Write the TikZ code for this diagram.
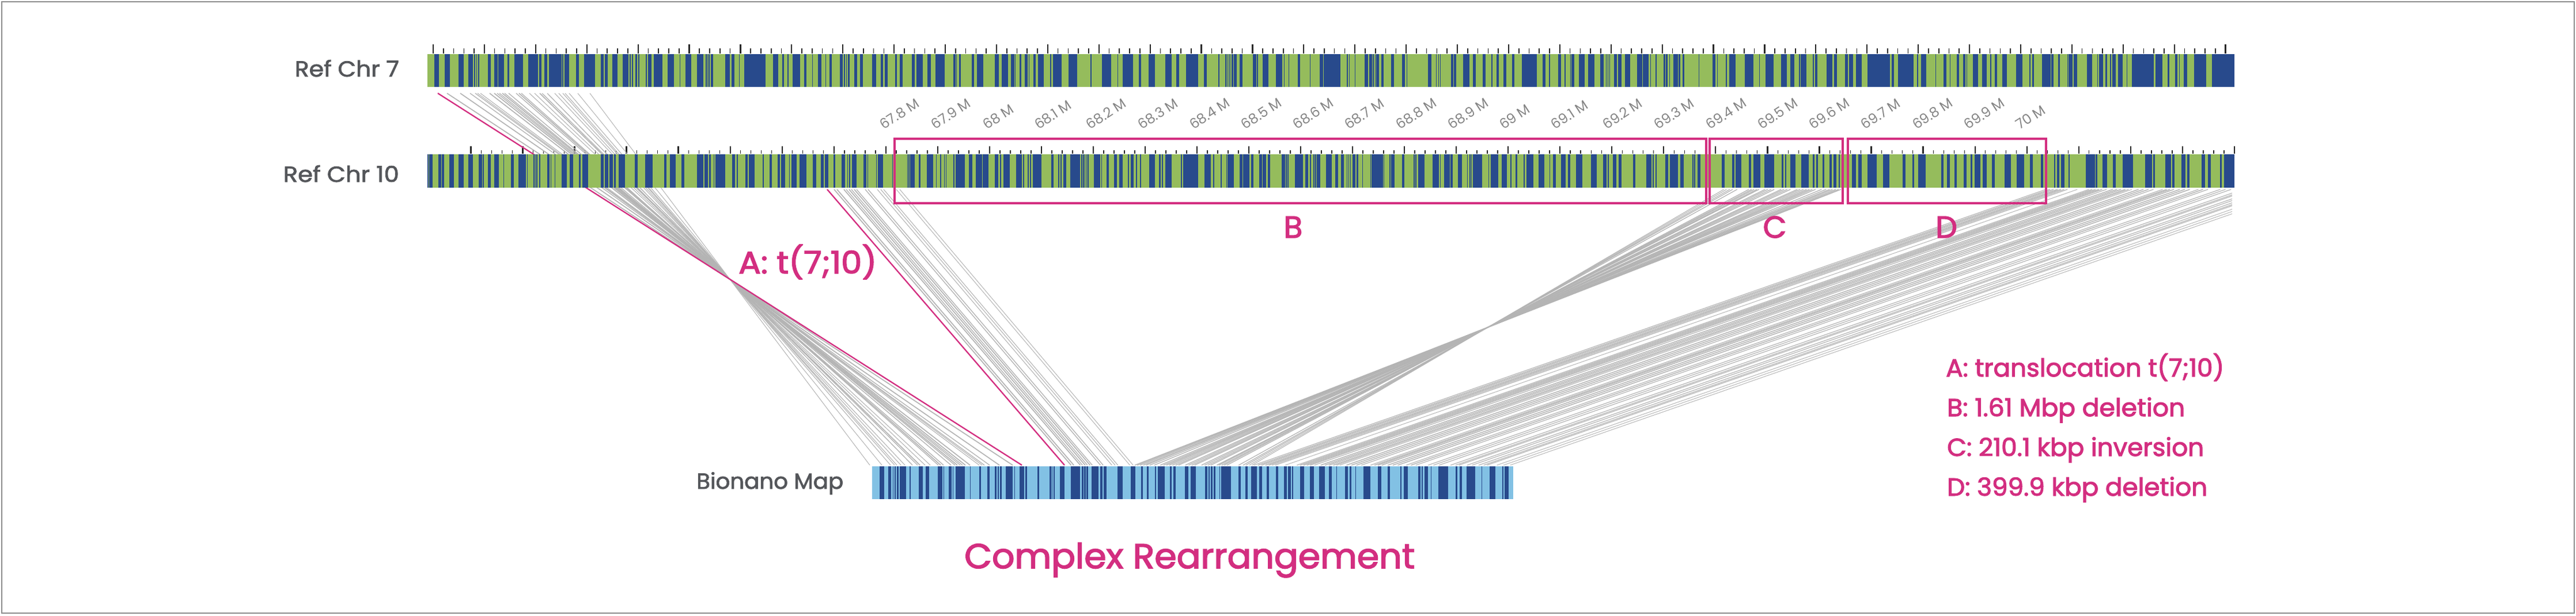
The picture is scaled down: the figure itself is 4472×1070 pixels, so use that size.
\documentclass[tikz,border=0pt]{standalone}
\usepackage{fontspec}
\usepackage{graphicx}
\setmainfont{Poppins}
\newfontfamily\medf[FakeBold=2.6]{Poppins}
\newfontfamily\grayf[FakeBold=2]{Poppins}
\newfontfamily\lightf{Poppins}
\definecolor{barblue}{HTML}{284A8C}
\definecolor{bargreen}{HTML}{95BC5C}
\definecolor{barsky}{HTML}{82C1E4}
\definecolor{mag}{HTML}{D32E80}
\definecolor{txtgray}{HTML}{54565A}
\definecolor{labgray}{HTML}{858585}
\definecolor{linkgray}{HTML}{B4B4B4}
\definecolor{framegray}{HTML}{8C8C8C}
\newcommand\stripes[6]{\foreach \a/\b in {#6}{\fill[#5] ({#1+\a/#2},#3) rectangle ({#1+\b/#2},#4);}}
\newcommand\fitw[2]{\resizebox{#1pt}{\height}{#2}}
\tikzset{
  tickmajor/.style={draw=black!85,line width=2.2pt},
  tickminor/.style={draw=black!85,line width=1.6pt},
  link/.style={draw=linkgray},
  pinklink/.style={draw=mag,line width=2.3pt},
  markbox/.style={draw=mag,line width=4pt},
  grayname/.style={font=\grayf\fontsize{38}{40}\selectfont,text=txtgray,inner sep=0pt},
  magname/.style={font=\medf\fontsize{43}{45}\selectfont,text=mag,inner sep=0pt,anchor=base west},
  boxname/.style={font=\medf\fontsize{53}{55}\selectfont,text=mag,inner sep=0pt,anchor=base},
  poslabel/.style={font=\lightf\fontsize{24}{26}\selectfont,text=labgray,inner sep=0pt,anchor=base west,rotate=33},
}
\begin{document}
\begin{tikzpicture}[x=1pt,y=-1pt]
\useasboundingbox (0,0) rectangle (4472,1070);
\draw[framegray,line width=2pt] (3,3) rectangle (4469,1065);

% ticks on Chr 7
\foreach \i in {0,...,175}{
  \pgfmathsetmacro\tx{752+17.78*\i}
  \pgfmathtruncatemacro\m{mod(\i,5)}
  \ifnum\m=0 \draw[tickmajor] (\tx,77) -- (\tx,93);
  \else \draw[tickminor] (\tx,84) -- (\tx,93); \fi
}
% ticks on Chr 10
\foreach \i in {0,...,170}{
  \pgfmathsetmacro\tx{817.4+18.008*\i}
  \pgfmathtruncatemacro\m{mod(\i,5)}
  \ifnum\m=0 \draw[tickmajor] (\tx,254) -- (\tx,267);
  \else \draw[tickminor] (\tx,261) -- (\tx,267); \fi
}

% translocation fan: chromosome 7 to map, through one crossing
\foreach \a/\w in {776/2,799/2,816/1.6,825/1.6,829/1.3,834/1.3,850/2,858/2,863/1.6,867/1.6,872/2,876/1.6,883/1.6,896/1.6,901/2,905/1.6,919/1.3,928/1.3,937/2,941/1.6,950/1.6,963/1.3,970/1.3,977/1.3,981/1.3,988/1.3,1003/1.2,1024/1.2}{
  \draw[link,line width=0.85*\w pt] (\a,162) -- ({2534-\a},808);
}
% left block of chromosome 10 to map
\foreach \a/\w in {1448/2,1453/2,1465/2,1469/1.6,1474/2,1478/1.6,1483/2,1487/1.6,1502/1.6,1507/1.6,1523/1.3,1529/1.3,1534/1.3,1556/1.2,1562/1.2}{
  \draw[link,line width=0.85*\w pt] (\a,329) -- ({1848+(\a-1436)*0.945},808);
}
% inversion fan
\foreach \a/\w in {203/1.3,210/1.3,218/1.5,225/1.5,236/1.5,265/1.6,272/1.6,278/1.6,285/1.6,290/1.6,305/1.6,312/1.6,320/1.6,328/1.6,345/1.6,352/1.6,360/1.6,368/1.6,385/1.6,392/1.6,400/1.6,408/1.6,415/1.6,422/1.6,430/1.6,445/1.6,456/1.6,465/1.6,472/1.6,480/1.6,487/1.6,493/1.6}{
  \draw[link,line width=0.85*\w pt] ({2850+\a/1.425},329) -- ({2*2583-(2850+\a/1.425)},808);
}
% right block, parallel, cut off at the end of the reference
\begin{scope}
\clip (2000,320) rectangle (3875,815);
\foreach \a/\w in {395/1.6,407/2,418/2,430/2,440/2,450/1.6,460/1.6,490/1.3,525/1.6,535/2,545/2,555/2,565/2,578/1.6,597/2,610/2,622/2,635/2,645/1.6,655/1.3,675/2,690/2,705/2,720/1.6,748/1.6,760/2,770/2,782/2,800/2,815/2,830/2,856/1.6,870/2,885/1.6,922/1.6,938/1.6,955/1.6,990/1.6,1005/1.6,1015/1.6,1040/1.6,1055/1.6,1075/1.6,1090/1.6,1100/1.6,1130/1.3,1150/1.3,1170/1.3}{
  \draw[link,line width=0.75*\w pt] ({1950+\a/1.742+1375},329) -- ({1950+\a/1.742},808);
}
\end{scope}
% the two marked links
\draw[pinklink] (760,162) -- (1774,808);
\draw[pinklink] (1436,329) -- (1848,808);

% Chr 7 bar
\begin{scope}
\clip (742,94) rectangle (3879,151);
\fill[bargreen] (742,94) rectangle (3879,151);
\stripes{700}{2.24}{94}{151}{barblue}{122/139,162/182,215/235,254/270,276/279,284/287,291/295,330/340,353/367,370/393,406/413,433/465,487/525,528/537,549/560,567/615,618/622,628/644,672/683,703/745,768/780,785/795,814/833,853/876,881/885,890/894,903/909,915/919,942/947,952/965,974/1009,1029/1053,1076/1078,1098/1120,1142/1167,1176/1181,1183/1186,1188/1192,1196/1205,1253/1270,1276/1289,1306/1309,1326/1408,1437/1459,1475/1481,1495/1498,1515/1543,1560/1568}
\stripes{1400}{1.96}{94}{151}{barblue}{20/22,40/50,64/66,78/87,113/123,127/131,135/138,141/146,163/173,183/193,223/237,252/260,267/277,302/307,317/328,359/368,374/395,411/424,439/470,500/507,510/511,520/526,562/571,581/602,641/655,664/685,696/707,710/711,725/732,743/752,756/757,772/780,787/808,830/832,839/869,891/921,967/971,1005/1036,1058/1060,1076/1112,1131/1139,1165/1186,1221/1242,1258/1268,1292/1333,1352/1362,1402/1406,1424/1428,1430/1433,1436/1439,1441/1443,1447/1452,1454/1464,1474/1484,1519/1530,1533/1537,1552/1568}
\stripes{2200}{1.845}{94}{151}{barblue}{0/3,28/47,53/55,68/70,97/105,137/138,168/178,181/234,255/258,262/264,281/282,311/323,327/335,338/341,345/347,349/358,366/372,396/406,431/441,447/448,515/525,540/543,548/550,553/556,588/595,597/605,627/647,659/668,690/700,718/722,734/742,756/766,784/791,815/863,881/891,902/905,931/941,952/956,970/973,975/983,998/1017,1028/1048,1066/1077,1085/1087,1090/1093,1095/1098,1111/1119,1124/1134,1146/1163,1184/1201,1203/1221,1226/1229,1243/1247,1270/1274,1277/1282,1287/1289,1301/1316,1318/1322,1331/1335,1382/1384,1426/1436,1440/1442,1469/1472,1480/1500,1530/1550}
\stripes{3040}{1.845}{94}{151}{barblue}{0/7,25/27,46/71,95/115,126/139,153/157,158/177,198/201,205/213,241/260,266/274,300/309,314/327,335/354,373/445,450/457,470/520,532/535,545/561,590/592,617/625,636/637,659/666,679/686,690/692,710/727,740/755,765/769,780/787,805/819,848/868,891/895,901/906,931/960,961/968,983/988,1012/1015,1017/1030,1034/1045,1075/1092,1108/1111,1114/1127,1135/1140,1150/1153,1157/1167,1175/1190,1202/1204,1219/1290,1296/1317,1334/1340,1357/1365,1370/1373,1385/1397,1418/1458,1475/1548}
\end{scope}

% Chr 10 bar
\begin{scope}
\clip (742,268) rectangle (3879,326);
\fill[bargreen] (742,268) rectangle (3879,326);
\stripes{700}{2.24}{268}{326}{barblue}{94/98,101/115,137/147,150/159,179/197,215/235,254/270,294/307,310/313,330/340,353/372,390/393,419/430,447/478,482/484,507/510,512/515,518/522,528/533,559/568,574/576,590/592,615/637,647/660,684/690,696/720,768/780,783/797,802/815,820/826,838/862,901/911,940/970,1015/1023,1036/1060,1082/1093,1142/1167,1172/1186,1190/1196,1207/1210,1214/1252,1278/1290,1297/1302,1330/1340,1345/1367,1397/1403,1425/1433,1455/1465,1470/1485,1500/1503,1510/1530,1542/1568}
\stripes{1400}{2.24}{268}{326}{barblue}{24/38,55/67,72/85,105/112,137/150,158/162,165/170,177/195,222/234,237/240,272/274,278/298,333/336,392/394,397/400,404/420,437/443,468/493,503/505,520/523,535/537,541/545,572/576,580/617,632/644,659/683,685/708,732/745,752/757,767/791,815/838,842/847,860/864,868/874,880/913,953/960,978/983,988/993,998/1011,1026/1063,1068/1072,1075/1079,1082/1085,1088/1091,1094/1098,1117/1142,1146/1150,1166/1177,1195/1207,1216/1230,1249/1255,1260/1272,1282/1285,1298/1301,1332/1356,1370/1378,1382/1387,1396/1420,1457/1460,1466/1475,1476/1523,1548/1568}
\stripes{2100}{2.01}{268}{326}{barblue}{0/3,11/16,38/43,58/60,63/85,105/115,117/138,144/153,173/183,185/196,203/211,251/263,265/270,272/276,297/325,333/343,350/353,362/365,368/371,373/386,405/427,438/449,458/468,478/481,484/486,490/493,498/508,512/519,532/534,560/562,565/604,606/608,627/632,633/645,672/680,712/716,718/722,728/750,777/800,803/806,819/838,841/848,867/880,898/901,907/910,913/915,919/951,972/975,981/1006,1020/1038,1050/1053,1067/1074,1096/1100,1106/1130,1147/1168,1185/1188,1197/1208,1227/1243,1250/1258,1279/1300,1331/1351,1372/1385,1389/1392,1406/1419,1427/1438,1478/1485,1523/1542,1546/1550,1555/1560}
\stripes{2850}{1.425}{268}{326}{barblue}{58/65,70/90,95/104,125/128,130/133,138/146,198/205,223/229,232/247,265/270,277/293,303/327,346/350,355/358,367/380,394/413,423/427,432/436,448/452,465/470,474/482,488/490,520/530,536/545,558/582,597/612,645/653,670/674,684/702,741/747,755/762,774/780,797/803,813/818,823/838,843/854,867/873,897/914,928/946,960/967,988/993,1020/1023,1027/1033,1038/1046,1056/1058,1098/1121,1123/1127,1140/1152,1165/1173,1190/1216,1245/1262,1266/1270,1295/1310,1313/1318,1335/1345,1350/1355,1385/1393,1400/1408,1430/1435,1440/1466}
\end{scope}

% Bionano map bar
\begin{scope}
\clip (1514,810) rectangle (2627,867);
\fill[barsky] (1514,810) rectangle (2627,867);
\stripes{1150}{1.96}{810}{867}{barblue}{739/755,769/778,783/786,789/793,797/804,808/830,840/845,872/885,895/907,937/952,957/959,975/983,987/990,997/1029,1047/1049,1078/1083,1105/1113,1131/1137,1141/1145,1149/1155,1169/1191,1197/1199,1215/1230,1234/1240,1276/1281,1318/1322,1324/1327,1331/1335,1353/1369,1389/1421,1426/1432,1434/1440,1443/1448,1461/1483,1490/1497,1501/1511,1549/1566}
\stripes{1950}{1.742}{810}{867}{barblue}{23/37,54/60,72/76,96/99,104/125,141/146,152/159,187/197,203/220,247/255,258/262,265/270,274/278,290/293,296/326,348/356,370/376,387/404,411/420,433/441,462/468,486/495,499/507,511/513,535/547,565/576,592/609,622/630,645/646,671/680,685/690,702/703,726/747,770/780,799/807,837/842,849/860,892/898,903/906,911/922,930/932,953/982,1005/1011,1018/1024,1038/1065,1083/1085,1107/1125,1146/1150,1154/1165}
\end{scope}

% marked regions
\draw[markbox] (1553,241) rectangle (2962,353);
\draw[markbox] (2968,241) rectangle (3199,353);
\draw[markbox] (3208,241) rectangle (3552,353);

% position labels
\foreach \t [count=\i from 0] in {67.8 M,67.9 M,68 M,68.1 M,68.2 M,68.3 M,68.4 M,68.5 M,68.6 M,68.7 M,68.8 M,68.9 M,69 M,69.1 M,69.2 M,69.3 M,69.4 M,69.5 M,69.6 M,69.7 M,69.8 M,69.9 M,70 M}{
  \pgfmathsetmacro\lx{1534+89.65*\i}
  \node[poslabel] (pos\i) at (\lx,226) {\t};
}

% names
\node[grayname,anchor=base east] (nameA) at (693,133) {\fitw{181}{Ref Chr 7}};
\node[grayname,anchor=base east] (nameB) at (693,316) {\fitw{201}{Ref Chr 10}};
\node[grayname,anchor=base west] (nameC) at (1209,849) {\fitw{255}{Bionano Map}};
\node[text=mag,font=\medf\fontsize{60}{62}\selectfont,inner sep=0pt,anchor=base west] (title) at (1674,987) {\fitw{782}{Complex Rearrangement}};
\node[text=mag,font=\medf\fontsize{54}{56}\selectfont,inner sep=0pt,anchor=base west] (tA) at (1282,475) {\fitw{240}{A: t(7;10)}};
\node[boxname] (tB) at (2245,413) {B};
\node[boxname] (tC) at (3081,413) {C};
\node[boxname] (tD) at (3379,413) {D};
\node[magname] (leg1) at (3378,654) {\fitw{483}{A: translocation t(7;10)}};
\node[magname] (leg2) at (3380,723) {\fitw{413}{B: 1.61 Mbp deletion}};
\node[magname] (leg3) at (3380,792) {\fitw{446}{C: 210.1 kbp inversion}};
\node[magname] (leg4) at (3380,861) {\fitw{452}{D: 399.9 kbp deletion}};
\end{tikzpicture}
\end{document}
